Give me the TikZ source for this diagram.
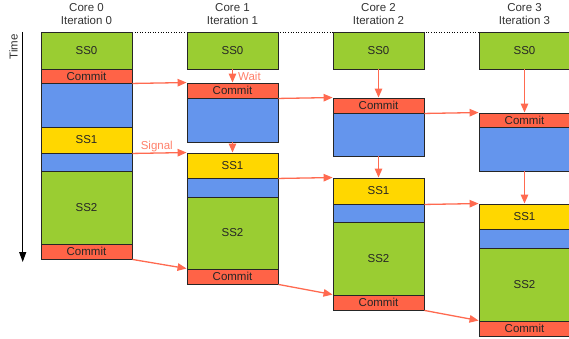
\documentclass[tikz,border=0pt]{standalone}
\usepackage{fontspec}
\setmainfont{Liberation Sans}
\usetikzlibrary{arrows.meta}
\definecolor{ssgreen}{HTML}{9ACD32}
\definecolor{cmred}{HTML}{FF6347}
\definecolor{wkblue}{HTML}{6495ED}
\definecolor{ssyellow}{HTML}{FFD700}
\definecolor{arrred}{HTML}{FF6A50}
\definecolor{hdtext}{HTML}{333333}
\tikzset{
  blk/.style={draw=black!85, line width=0.9pt, inner sep=0pt, minimum width=91pt,
    font=\fontsize{11.5}{12}\selectfont, text=black!85},
  dep/.style={draw=arrred, line width=1.3pt, -{Triangle[length=9pt,width=7.5pt]}},
  deplbl/.style={text=arrred!85, font=\fontsize{11.5}{12}\selectfont, inner sep=1pt},
  hdr/.style={align=center, text=hdtext, font=\fontsize{11.5}{13}\selectfont}
}
\newcommand\Blk[6]{\node[blk, fill=#5, minimum height={(#4-#3)*1pt}] (#1) at ({#2+45.5},{(#3+#4)/2}) {#6};}
\begin{document}
\begin{tikzpicture}[x=1pt,y=-1pt]
\useasboundingbox (0,0) rectangle (569,339);
\begin{scope}
\clip (0,0) rectangle (569,339);
% dotted top line
\coordinate (dotend) at (575,32);
\coordinate (dotstart) at (132,32);
\draw[dotted, line width=0.6pt] (dotstart) -- (dotend);
% column 0
\Blk{a0}{41}{32}{69}{ssgreen}{SS0}
\Blk{a1}{41}{69}{83}{cmred}{Commit}
\Blk{a2}{41}{83}{127}{wkblue}{}
\Blk{a3}{41}{127}{153}{ssyellow}{SS1}
\Blk{a4}{41}{153}{171}{wkblue}{}
\Blk{a5}{41}{171}{244}{ssgreen}{SS2}
\Blk{a6}{41}{244}{259}{cmred}{Commit}
% column 1
\Blk{b0}{187}{32}{69}{ssgreen}{SS0}
\Blk{b1}{187}{83}{98}{cmred}{Commit}
\Blk{b2}{187}{98}{142}{wkblue}{}
\Blk{b3}{187}{153}{178}{ssyellow}{SS1}
\Blk{b4}{187}{178}{197}{wkblue}{}
\Blk{b5}{187}{197}{269}{ssgreen}{SS2}
\Blk{b6}{187}{269}{284}{cmred}{Commit}
% column 2
\Blk{c0}{333}{32}{69}{ssgreen}{SS0}
\Blk{c1}{333}{98}{113}{cmred}{Commit}
\Blk{c2}{333}{113}{156}{wkblue}{}
\Blk{c3}{333}{178}{204}{ssyellow}{SS1}
\Blk{c4}{333}{204}{222}{wkblue}{}
\Blk{c5}{333}{222}{295}{ssgreen}{SS2}
\Blk{c6}{333}{295}{310}{cmred}{Commit}
% column 3
\Blk{d0}{479}{32}{69}{ssgreen}{SS0}
\Blk{d1}{479}{113}{127}{cmred}{Commit}
\Blk{d2}{479}{127}{171}{wkblue}{}
\Blk{d3}{479}{204}{229}{ssyellow}{SS1}
\Blk{d4}{479}{229}{248}{wkblue}{}
\Blk{d5}{479}{248}{321}{ssgreen}{SS2}
\Blk{d6}{479}{321}{336}{cmred}{Commit}
\end{scope}
% headers
\node[hdr] (h0) at (86.5,14.5) {Core 0\\Iteration 0};
\node[hdr] (h1) at (232.5,14.5) {Core 1\\Iteration 1};
\node[hdr] (h2) at (378.5,14.5) {Core 2\\Iteration 2};
\node[hdr] (h3) at (524.5,14.5) {Core 3\\Iteration 3};
% time axis
\coordinate (t0) at (22.7,32);
\coordinate (t1) at (22.7,262);
\draw[line width=1.1pt, -{Triangle[length=10pt,width=7pt]}] (t0) -- (t1);
\node[rotate=90, text=hdtext, font=\fontsize{11.5}{12}\selectfont] (time) at (13.5,47) {Time};
% horizontal/slanted dependencies
\draw[dep] (a1.south east) -- (b1.north west);
\draw[dep] (a3.south east) -- node[deplbl, above, pos=0.45] (sig) {Signal} (b3.north west);
\draw[dep] (a6.south east) -- (b6.north west);
\draw[dep] (b1.south east) -- (c1.north west);
\draw[dep] (b3.south east) -- (c3.north west);
\draw[dep] (b6.south east) -- (c6.north west);
\draw[dep] (c1.south east) -- (d1.north west);
\draw[dep] (c3.south east) -- (d3.north west);
\draw[dep] (c6.south east) -- (d6.north west);
% vertical dependencies
\draw[dep] (b0.south) -- node[deplbl, right=4pt, pos=0.5] (wait) {Wait} (b1.north);
\draw[dep] (b2.south) -- (b3.north);
\draw[dep] (c0.south) -- (c1.north);
\draw[dep] (c2.south) -- (c3.north);
\draw[dep] (d0.south) -- (d1.north);
\draw[dep] (d2.south) -- (d3.north);
\end{tikzpicture}
\end{document}
